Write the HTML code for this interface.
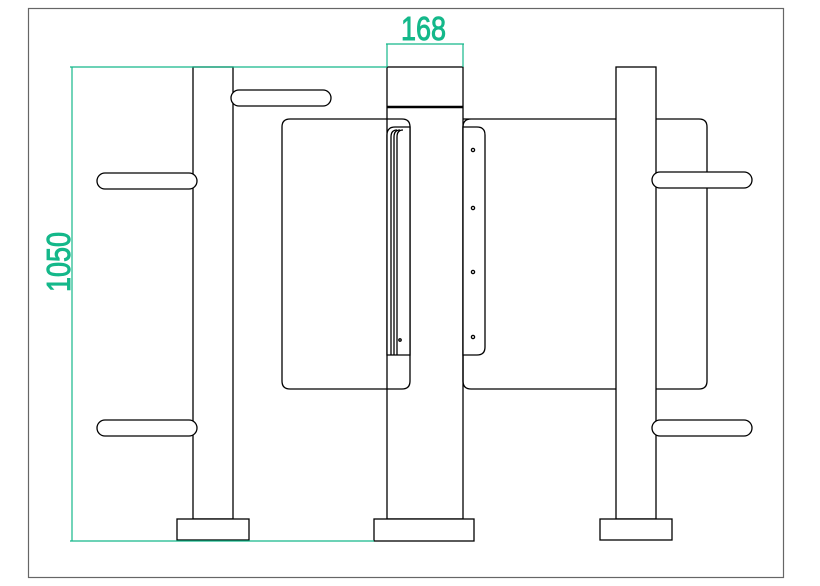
<!DOCTYPE html>
<html><head><style>html,body{margin:0;padding:0;background:#fff}svg{display:block}</style></head>
<body>
<svg width="820" height="586" viewBox="0 0 820 586" xmlns="http://www.w3.org/2000/svg">
<rect x="28.5" y="8.5" width="755" height="569" fill="none" stroke="#666" stroke-width="1.2"/>
<g fill="none" stroke="#000" stroke-width="1.3">
<!-- center post -->
<rect x="387" y="67" width="76" height="452"/>
<line x1="387" y1="107" x2="463" y2="107" stroke-width="2.5"/>
<!-- right gate panel -->
<path d="M463 119 H699 Q707 119 707 127 V381 Q707 389 699 389 H471 Q463 389 463 381 V127 Q463 119 471 119"/>
<!-- left gate panel -->
<path d="M290 119 H402 Q410 119 410 127 V381 Q410 389 402 389 H290 Q282 389 282 381 V127 Q282 119 290 119"/>
<!-- left post -->
<rect x="193" y="67" width="40" height="452" fill="#fff"/>
<!-- right post -->
<rect x="616" y="67" width="40" height="452" fill="#fff"/>
<!-- handrails -->
<rect x="231" y="90" width="100" height="16" rx="8" fill="#fff"/>
<rect x="97" y="173" width="100" height="16" rx="8" fill="#fff"/>
<rect x="97" y="420" width="100" height="16" rx="8" fill="#fff"/>
<rect x="652" y="172" width="100" height="16" rx="8" fill="#fff"/>
<rect x="652" y="420" width="100" height="16" rx="8" fill="#fff"/>
<!-- bases -->
<rect x="177" y="519" width="72" height="21" fill="#fff"/>
<rect x="374" y="519" width="100" height="22" fill="#fff"/>
<rect x="600" y="519" width="72" height="21" fill="#fff"/>
<!-- left flap -->
<path d="M387 355 V135 Q387 127 395 127 H410 V355 Z" fill="#fff"/>
<path d="M391 355 V137 Q391 130 397 130"/>
<path d="M394 355 V137 Q394 130 400 130"/>
<path d="M397 355 V137 Q397 130 403 130"/>
<circle cx="400" cy="340" r="1.2"/>
<!-- right flap -->
<path d="M463 355 V127 H477 Q485 127 485 135 V347 Q485 355 477 355 Z" fill="#fff"/>
<circle cx="473" cy="150" r="1.6"/><circle cx="473" cy="208" r="1.6"/>
<circle cx="473" cy="272" r="1.6"/><circle cx="473" cy="337" r="1.6"/>
</g>
<g stroke="#14b88a" stroke-width="1.2" fill="none">
<line x1="70" y1="67" x2="387" y2="67"/>
<line x1="72" y1="67" x2="72" y2="541"/>
<line x1="70" y1="541" x2="374" y2="541"/>
<line x1="386" y1="44" x2="464" y2="44"/>
<line x1="387" y1="44" x2="387" y2="67"/>
<line x1="463" y1="44" x2="463" y2="67"/>
</g>
<g fill="#14b88a" stroke="#14b88a" stroke-width="0.9" font-family="Liberation Sans, sans-serif">
<text x="401" y="40" font-size="33" textLength="45" lengthAdjust="spacingAndGlyphs">168</text>
<text transform="translate(70 292) rotate(-90)" x="0" y="0" font-size="33" textLength="60" lengthAdjust="spacingAndGlyphs">1050</text>
</g>
</svg>
</body></html>
